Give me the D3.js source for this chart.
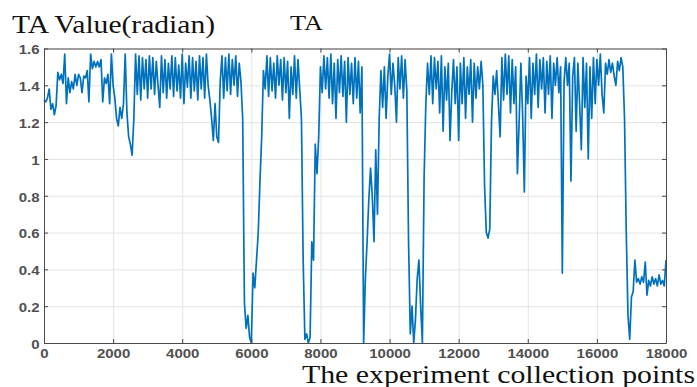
<!DOCTYPE html>
<html lang="en">
<head>
<meta charset="utf-8">
<script src="https://d3js.org/d3.v7.min.js"></script>
<style>
  body { margin: 0; background: #fff; }
</style>
</head>
<body>
<script>
// TA value, one sample every 50 collection points (0 .. 18000)
const step = 50;
const taValues = [
  // 0 - 950
  1.32, 1.31, 1.33, 1.38, 1.27, 1.30, 1.24, 1.29, 1.47, 1.43, 1.46, 1.41, 1.57, 1.30, 1.44, 1.36, 1.42, 1.38, 1.46, 1.40,
  // 1000 - 1950
  1.46, 1.44, 1.36, 1.45, 1.44, 1.48, 1.31, 1.57, 1.49, 1.53, 1.50, 1.53, 1.50, 1.54, 1.31, 1.44, 1.41, 1.46, 1.30, 1.57,
  // 2000 - 2950
  1.40, 1.33, 1.22, 1.18, 1.28, 1.22, 1.30, 1.57, 1.25, 1.12, 1.08, 1.02, 1.22, 1.57, 1.35, 1.56, 1.32, 1.55, 1.38, 1.54,
  // 3000 - 3950
  1.33, 1.56, 1.38, 1.55, 1.35, 1.53, 1.40, 1.28, 1.56, 1.36, 1.54, 1.33, 1.52, 1.38, 1.56, 1.34, 1.55, 1.37, 1.51, 1.33,
  // 4000 - 4950
  1.57, 1.30, 1.52, 1.39, 1.56, 1.33, 1.55, 1.37, 1.53, 1.32, 1.56, 1.38, 1.55, 1.33, 1.57, 1.40, 1.32, 1.22, 1.10, 1.30,
  // 5000 - 5950
  1.12, 1.09, 1.42, 1.56, 1.33, 1.55, 1.37, 1.57, 1.35, 1.54, 1.40, 1.56, 1.34, 1.52, 1.42, 1.22, 0.22, 0.08, 0.15, 0.03,
  // 6000 - 6950
  0.00, 0.38, 0.30, 0.45, 0.60, 0.88, 1.12, 1.48, 1.38, 1.56, 1.34, 1.55, 1.37, 1.52, 1.33, 1.56, 1.40, 1.54, 1.32, 1.55,
  // 7000 - 7950
  1.36, 1.53, 1.22, 1.50, 1.35, 1.56, 1.33, 1.54, 1.38, 1.22, 0.45, 0.02, 0.05, 0.00, 0.03, 0.55, 0.45, 1.08, 0.92, 1.12,
  // 8000 - 8950
  1.50, 1.36, 1.56, 1.38, 1.55, 1.33, 1.57, 1.30, 1.52, 1.22, 1.54, 1.36, 1.56, 1.34, 1.53, 1.20, 1.55, 1.35, 1.52, 1.30,
  // 9000 - 9950
  1.55, 1.33, 1.53, 1.25, 1.50, 0.00, 0.35, 0.55, 0.78, 0.95, 0.80, 0.55, 1.05, 0.70, 1.22, 1.48, 1.28, 1.50, 1.22, 1.45,
  // 10000 - 10950
  1.57, 1.35, 1.52, 1.40, 1.20, 1.55, 1.38, 1.56, 1.33, 1.54, 1.37, 0.55, 0.05, 0.20, 0.00, 0.13, 0.35, 0.45, 0.20, 0.00,
  // 11000 - 11950
  0.90, 1.30, 1.52, 1.35, 1.56, 1.30, 1.55, 1.38, 1.53, 1.25, 1.56, 1.15, 1.50, 1.32, 1.52, 1.10, 1.36, 1.54, 1.30, 1.50,
  // 12000 - 12950
  1.10, 1.52, 1.30, 1.55, 1.22, 1.50, 1.35, 1.54, 1.20, 1.52, 1.33, 1.50, 1.38, 1.53, 1.40, 0.85, 0.60, 0.57, 0.62, 1.20,
  // 13000 - 13950
  1.45, 1.35, 1.48, 1.30, 1.12, 1.55, 1.32, 1.57, 1.35, 1.56, 1.25, 1.54, 1.30, 1.50, 0.92, 1.20, 1.52, 1.25, 0.82, 1.45,
  // 14000 - 14950
  1.30, 1.55, 1.22, 1.52, 1.35, 1.57, 1.28, 1.54, 1.38, 1.55, 1.25, 1.53, 1.35, 1.56, 1.22, 1.52, 1.40, 1.55, 1.36, 1.50,
  // 15000 - 15950
  0.38, 1.42, 1.55, 1.40, 1.52, 0.88, 1.45, 1.55, 1.15, 1.52, 1.30, 1.05, 1.55, 1.28, 1.52, 1.00, 1.50, 1.22, 1.55, 1.30,
  // 16000 - 16950
  1.54, 1.40, 1.57, 1.35, 1.25, 1.52, 1.46, 1.54, 1.47, 1.52, 1.45, 1.40, 1.53, 1.48, 1.55, 1.50, 1.22, 0.60, 0.15, 0.02,
  // 17000 - 17950
  0.25, 0.28, 0.45, 0.33, 0.35, 0.32, 0.36, 0.33, 0.44, 0.26, 0.34, 0.31, 0.36, 0.32, 0.35, 0.31, 0.37, 0.32, 0.34, 0.31,
  // 18000
  0.45
];

const xTickValues = [0, 2000, 4000, 6000, 8000, 10000, 12000, 14000, 16000, 18000];
const yTickValues = [0, 0.2, 0.4, 0.6, 0.8, 1, 1.2, 1.4, 1.6];
const yLabelText = "TA Value(radian)";
const titleText = "TA";
const xLabelText = "The experiment collection points";

// size and margins
const width = 697;
const height = 387;
const margin = {top: 48.5, right: 31, bottom: 44, left: 44};
const innerW = width - margin.left - margin.right;
const innerH = height - margin.top - margin.bottom;
const stretch = 1.25;   // tick labels look horizontally stretched

const svg = d3.select("body").append("svg")
  .attr("width", width)
  .attr("height", height)
  .style("font-family", "'Liberation Sans', Arial, sans-serif");

const g = svg.append("g")
  .attr("transform", `translate(${margin.left},${margin.top})`);

const x = d3.scaleLinear().domain([0, 18000]).range([0, innerW]);
const y = d3.scaleLinear().domain([0, 1.6]).range([innerH, 0]);

// grid
g.append("g")
  .attr("transform", `translate(0,${innerH})`)
  .call(d3.axisBottom(x).tickValues(xTickValues).tickSize(-innerH).tickFormat(""))
  .call(a => a.select(".domain").remove())
  .selectAll("line").attr("stroke", "#e3e3e3");
g.append("g")
  .call(d3.axisLeft(y).tickValues(yTickValues).tickSize(-innerW).tickFormat(""))
  .call(a => a.select(".domain").remove())
  .selectAll("line").attr("stroke", "#e3e3e3");

// the signal
g.append("path")
  .datum(taValues)
  .attr("fill", "none")
  .attr("stroke", "#0072BD")
  .attr("stroke-width", 1.7)
  .attr("stroke-linejoin", "round")
  .attr("d", d3.line()
    .x((d, i) => x(i * step))
    .y(d => y(d)));

// box with inward ticks
const axisColor = "#4a4a4a";
const xAxis = g.append("g")
  .attr("transform", `translate(0,${innerH})`)
  .call(d3.axisBottom(x).tickValues(xTickValues).tickSizeInner(-4).tickSizeOuter(0).tickPadding(6.5)
    .tickFormat(d3.format("d")));
const yAxis = g.append("g")
  .call(d3.axisLeft(y).tickValues(yTickValues).tickSizeInner(-4).tickSizeOuter(0)
    .tickFormat(d3.format("~g")));
g.append("g")
  .call(d3.axisTop(x).tickValues(xTickValues).tickSizeInner(-4).tickSizeOuter(0).tickFormat(""));
g.append("g")
  .attr("transform", `translate(${innerW},0)`)
  .call(d3.axisRight(y).tickValues(yTickValues).tickSizeInner(-4).tickSizeOuter(0).tickFormat(""));

g.selectAll(".domain, .tick line").filter(function() {
  return d3.select(this).attr("stroke") === "currentColor";
}).attr("stroke", axisColor);

xAxis.selectAll("text")
  .attr("font-size", 12)
  .attr("font-weight", "bold")
  .attr("fill", "#505050")
  .attr("transform", `scale(${stretch},1)`);
yAxis.selectAll("text")
  .attr("font-size", 12)
  .attr("font-weight", "bold")
  .attr("fill", "#505050")
  .attr("x", -4.5 / stretch)
  .attr("dy", "0.45em")
  .attr("transform", `scale(${stretch},1)`);

// labels (serif, like the original figure)
svg.append("text")
  .attr("x", 12).attr("y", 33)
  .attr("font-family", "'Liberation Serif', 'Times New Roman', serif")
  .attr("font-size", 24.5)
  .attr("textLength", 203).attr("lengthAdjust", "spacingAndGlyphs")
  .attr("fill", "#111")
  .text(yLabelText);
svg.append("text")
  .attr("x", 290).attr("y", 29.5)
  .attr("font-family", "'Liberation Serif', 'Times New Roman', serif")
  .attr("font-size", 22)
  .attr("textLength", 33).attr("lengthAdjust", "spacingAndGlyphs")
  .attr("fill", "#111")
  .text(titleText);
svg.append("text")
  .attr("x", 302).attr("y", 382.5)
  .attr("font-family", "'Liberation Serif', 'Times New Roman', serif")
  .attr("font-size", 25)
  .attr("textLength", 393).attr("lengthAdjust", "spacingAndGlyphs")
  .attr("fill", "#111")
  .text(xLabelText);
</script>
</body>
</html>
